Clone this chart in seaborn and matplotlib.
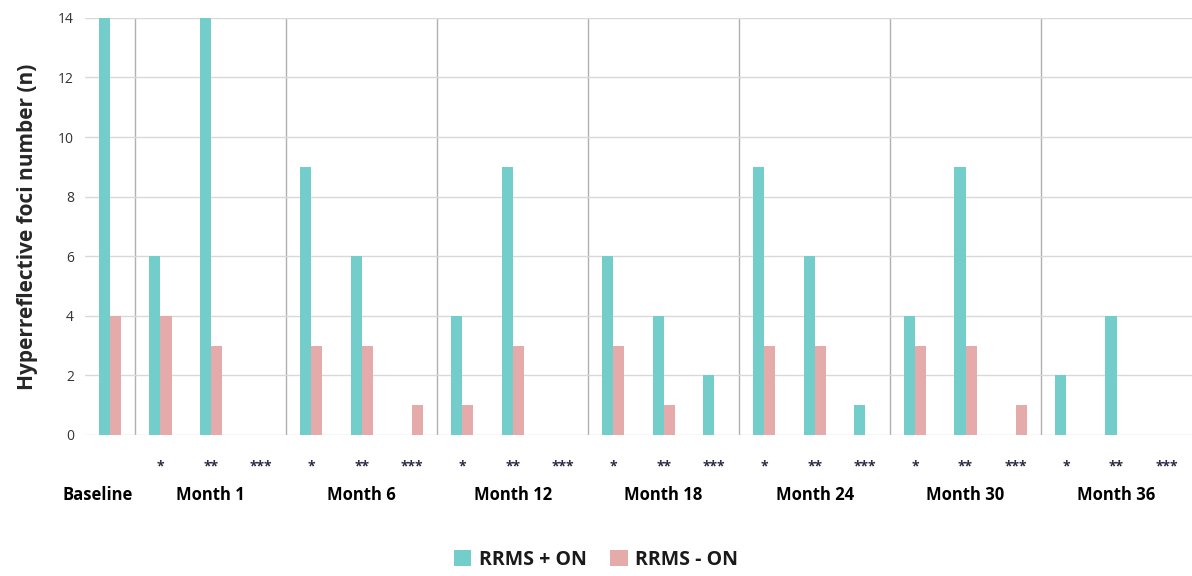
import pandas as pd
import matplotlib.pyplot as plt
import matplotlib.transforms as mtransforms
import seaborn as sns

# values
groups = ["Baseline", "Month 1", "Month 6", "Month 12", "Month 18", "Month 24", "Month 30", "Month 36"]
stars = ["*", "**", "***"]
rrms_pos_on = [14, 6, 14, 0, 9, 6, 0, 4, 9, 0, 6, 4, 2, 9, 6, 1, 4, 9, 0, 2, 4, 0]
rrms_neg_on = [4, 4, 3, 0, 3, 3, 1, 1, 3, 0, 3, 1, 0, 3, 3, 0, 3, 3, 1, 0, 0, 0]

slot_ids = ["Baseline"] + [f"{g} {s}" for g in groups[1:] for s in stars]
slot_labels = [""] + stars * (len(groups) - 1)

df = pd.DataFrame({
    "slot": slot_ids * 2,
    "value": rrms_pos_on + rrms_neg_on,
    "group": ["RRMS + ON"] * len(slot_ids) + ["RRMS - ON"] * len(slot_ids),
})

sns.set_style("white")
plt.rcParams["font.family"] = ["Open Sans", "DejaVu Sans"]

fig = plt.figure(figsize=(11.92, 5.76), dpi=100)
ax = fig.add_axes([0.0713, 0.245, 0.9287, 0.724])

sns.barplot(data=df, x="slot", y="value", hue="group", order=slot_ids,
            palette=["#72CDCB", "#E5AAAA"], width=0.44, saturation=1,
            linewidth=0, ax=ax, legend=True)

ax.set_ylim(0, 14)
ax.set_xlim(-0.5, len(slot_ids) - 0.5)
ax.set_yticks(range(0, 15, 2))
ax.yaxis.grid(True, color="#d9d9d9", linewidth=1)
ax.set_axisbelow(True)
for sp in ax.spines.values():
    sp.set_visible(False)

# separators between time points
for i in range(len(groups) - 1):
    ax.axvline(0.5 + 3 * i, color="#b0b0b0", linewidth=1, zorder=0)

ax.set_xticks(range(len(slot_ids)))
ax.set_xticklabels(slot_labels, fontsize=10, fontweight="bold", color="#2b2b45")
ax.tick_params(axis="x", length=0, pad=18)
ax.tick_params(axis="y", length=0, labelsize=10, colors="#333333", pad=8)
ax.set_xlabel("")
ax.set_ylabel("Hyperreflective foci number (n)", fontsize=15, fontweight="bold", labelpad=14)

trans = mtransforms.blended_transform_factory(ax.transData, ax.transAxes)
centers = [-0.25] + [2 + 3 * i for i in range(len(groups) - 1)]
for g, c in zip(groups, centers):
    ax.text(c, -0.145, g, transform=trans, ha="center", va="center",
            fontsize=12, fontweight="bold", color="black")

leg = ax.legend(loc="center", bbox_to_anchor=(0.5, 0.028), bbox_transform=fig.transFigure,
                ncol=2, frameon=False, handlelength=0.9, handleheight=0.9,
                handletextpad=0.4, columnspacing=1.2,
                prop={"size": 14, "weight": "bold"})
for t in leg.get_texts():
    t.set_color("#1a1a1a")

fig.savefig("out.png", dpi=100)
